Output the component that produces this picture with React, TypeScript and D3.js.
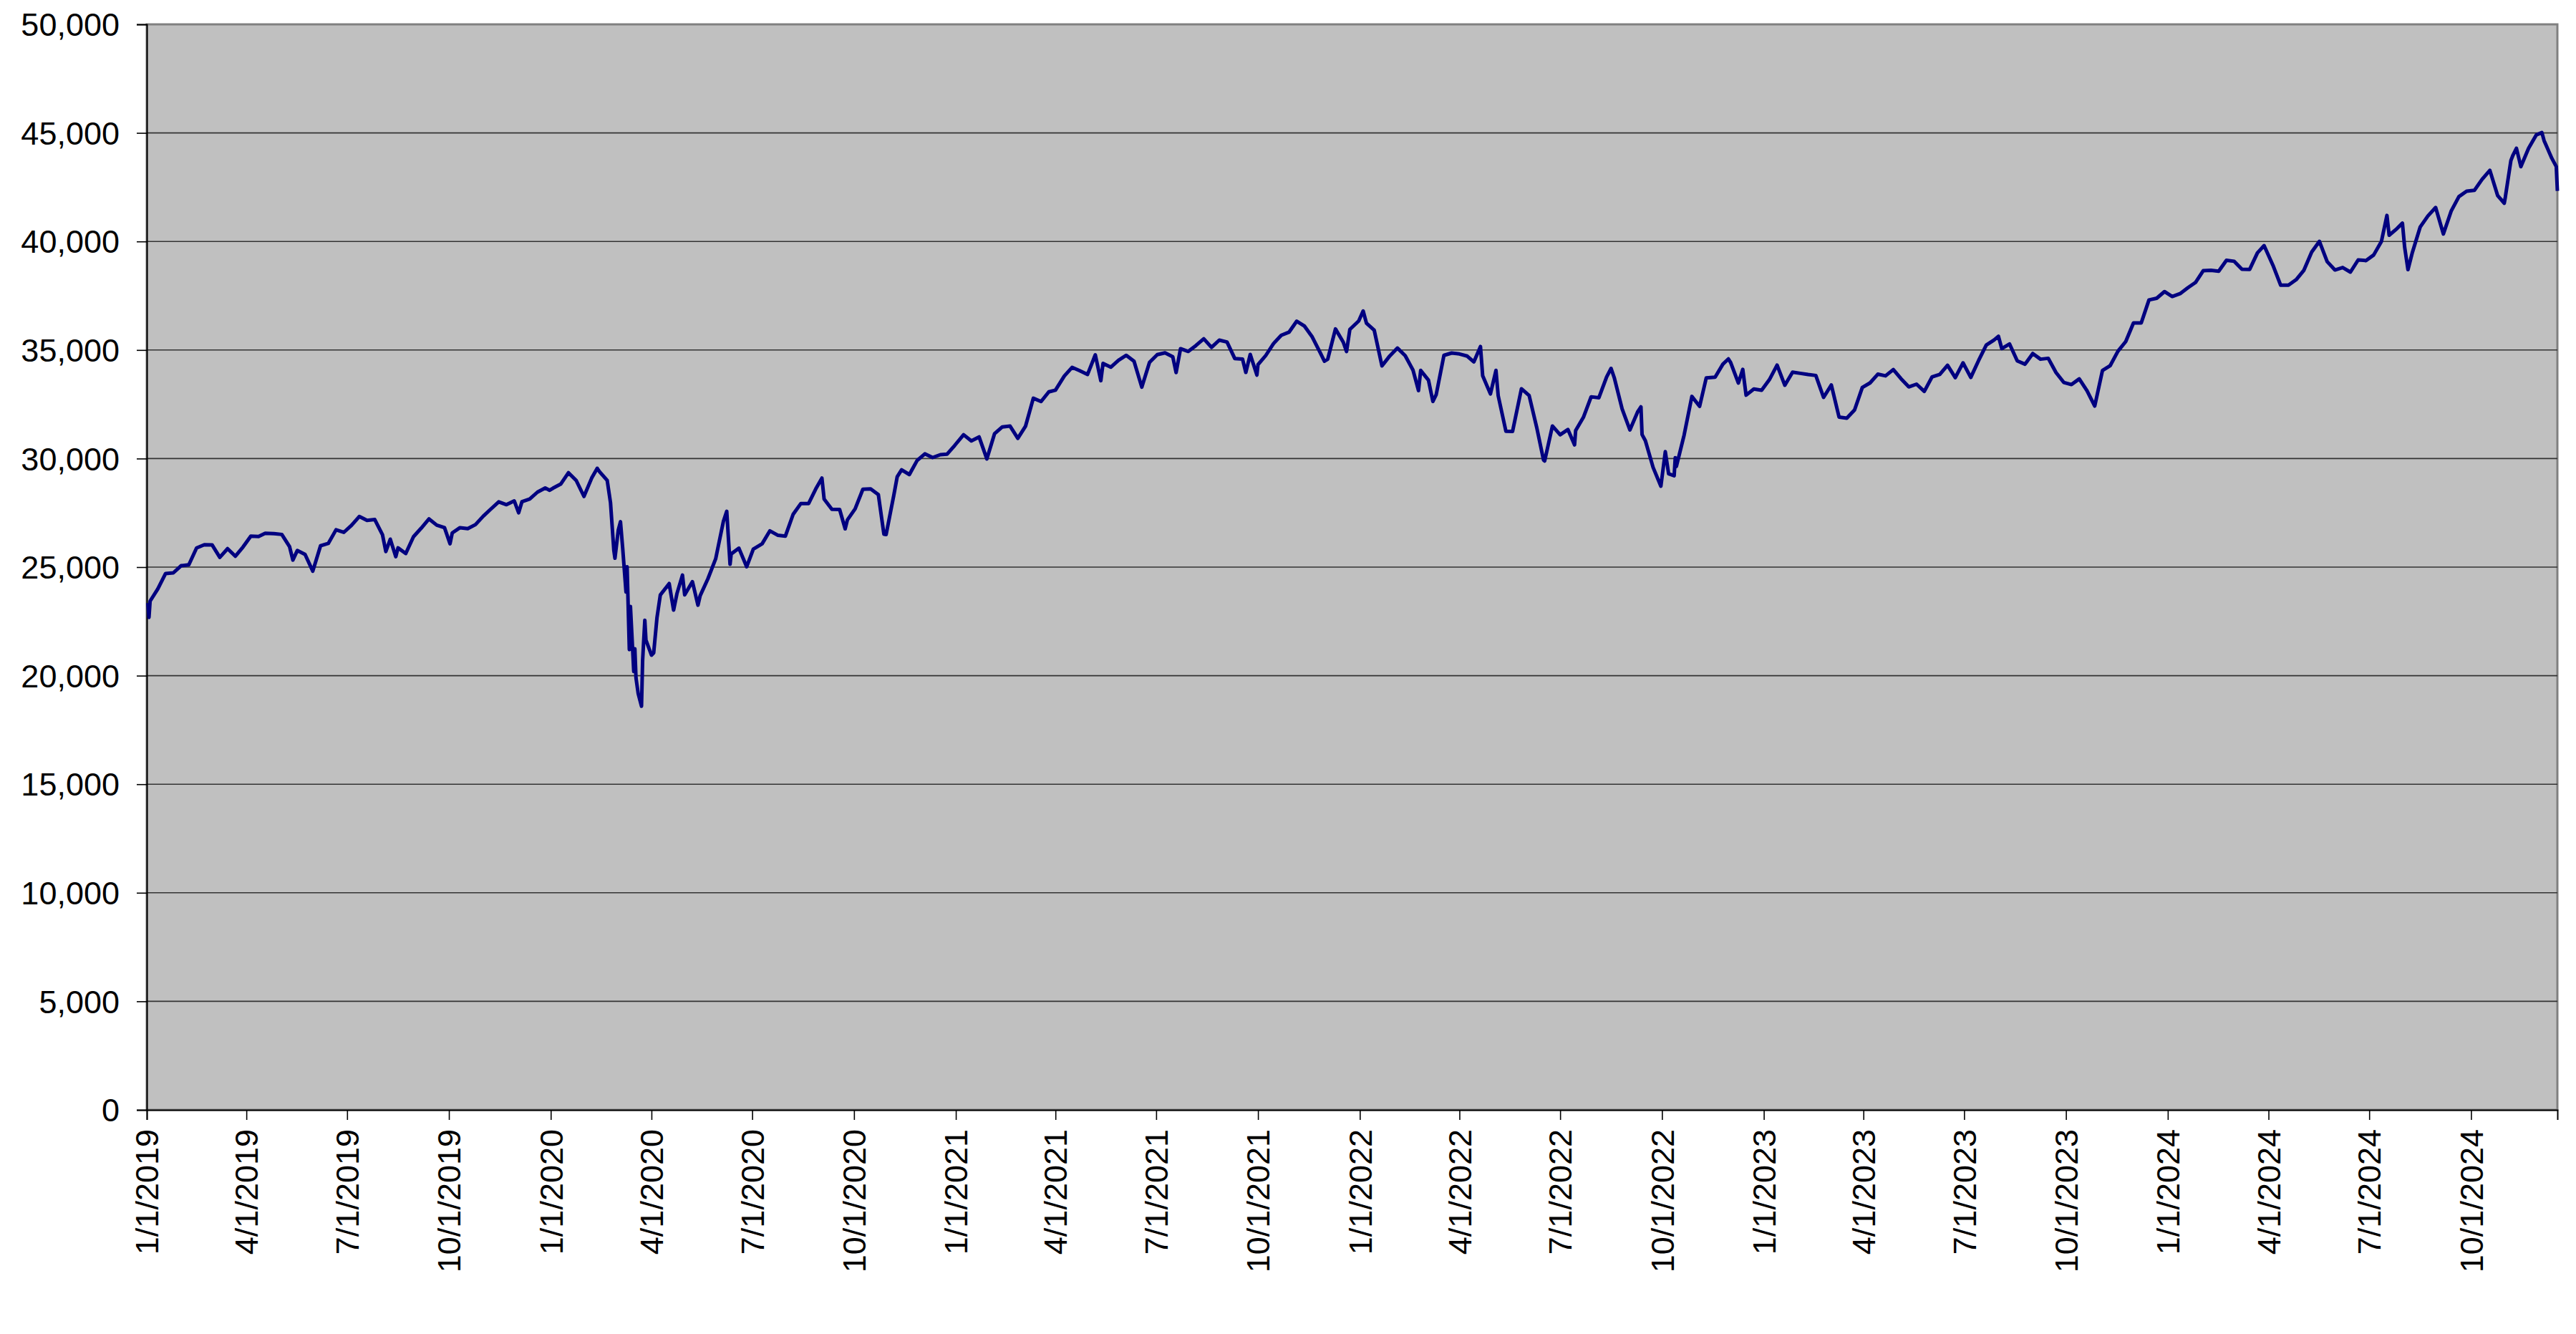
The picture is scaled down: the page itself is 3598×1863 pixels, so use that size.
import { useRef, useEffect } from "react";
import * as d3 from "d3";

// weekly-ish closes (extra points where the line swings hard)
const series2019: [string, number][] = [
  ["2019-01-02", 23346], ["2019-01-03", 22686], ["2019-01-04", 23433], ["2019-01-11", 23996],
  ["2019-01-18", 24706], ["2019-01-25", 24737], ["2019-02-01", 25064], ["2019-02-08", 25106],
  ["2019-02-15", 25883], ["2019-02-22", 26031], ["2019-03-01", 26026], ["2019-03-08", 25450],
  ["2019-03-15", 25849], ["2019-03-22", 25502], ["2019-03-29", 25929], ["2019-04-05", 26425],
  ["2019-04-12", 26412], ["2019-04-18", 26559], ["2019-04-26", 26543], ["2019-05-03", 26505],
  ["2019-05-10", 25942], ["2019-05-13", 25324], ["2019-05-17", 25764], ["2019-05-24", 25586],
  ["2019-05-31", 24815], ["2019-06-07", 25984], ["2019-06-14", 26090], ["2019-06-21", 26719],
  ["2019-06-28", 26600], ["2019-07-05", 26922], ["2019-07-12", 27332], ["2019-07-19", 27154],
  ["2019-07-26", 27192], ["2019-08-02", 26485], ["2019-08-05", 25718], ["2019-08-09", 26287],
  ["2019-08-14", 25479], ["2019-08-16", 25886], ["2019-08-23", 25629], ["2019-08-30", 26403],
  ["2019-09-06", 26797], ["2019-09-13", 27220], ["2019-09-20", 26935], ["2019-09-27", 26820],
  ["2019-10-02", 26078], ["2019-10-04", 26573], ["2019-10-11", 26817], ["2019-10-18", 26770],
  ["2019-10-25", 26958], ["2019-11-01", 27347], ["2019-11-08", 27681], ["2019-11-15", 28005],
  ["2019-11-22", 27876], ["2019-11-29", 28051], ["2019-12-03", 27502], ["2019-12-06", 28015],
  ["2019-12-13", 28135], ["2019-12-20", 28455], ["2019-12-27", 28645], ["2019-12-31", 28538],
];

const series2020: [string, number][] = [
  ["2020-01-03", 28635], ["2020-01-10", 28824], ["2020-01-17", 29348], ["2020-01-24", 28990],
  ["2020-01-31", 28256], ["2020-02-07", 29103], ["2020-02-12", 29551], ["2020-02-14", 29398],
  ["2020-02-21", 28992], ["2020-02-24", 27961], ["2020-02-27", 25767], ["2020-02-28", 25409],
  ["2020-03-02", 26703], ["2020-03-04", 27091], ["2020-03-06", 25865], ["2020-03-09", 23851],
  ["2020-03-10", 25018], ["2020-03-12", 21200], ["2020-03-13", 23186], ["2020-03-16", 20189],
  ["2020-03-17", 21237], ["2020-03-18", 19899], ["2020-03-20", 19174], ["2020-03-23", 18592],
  ["2020-03-24", 20705], ["2020-03-26", 22552], ["2020-03-27", 21637], ["2020-04-01", 20944],
  ["2020-04-03", 21053], ["2020-04-06", 22680], ["2020-04-09", 23719], ["2020-04-17", 24242],
  ["2020-04-21", 23019], ["2020-04-24", 23775], ["2020-04-29", 24634], ["2020-05-01", 23724],
  ["2020-05-08", 24331], ["2020-05-13", 23247], ["2020-05-15", 23685], ["2020-05-22", 24465],
  ["2020-05-29", 25383], ["2020-06-05", 27111], ["2020-06-08", 27572], ["2020-06-11", 25128],
  ["2020-06-12", 25606], ["2020-06-19", 25871], ["2020-06-26", 25016], ["2020-07-02", 25827],
  ["2020-07-10", 26075], ["2020-07-17", 26672], ["2020-07-24", 26470], ["2020-07-31", 26428],
  ["2020-08-07", 27433], ["2020-08-14", 27931], ["2020-08-21", 27930], ["2020-08-28", 28654],
  ["2020-09-02", 29100], ["2020-09-04", 28133], ["2020-09-11", 27666], ["2020-09-18", 27657],
  ["2020-09-23", 26763], ["2020-09-25", 27174], ["2020-10-02", 27683], ["2020-10-09", 28587],
  ["2020-10-16", 28606], ["2020-10-23", 28336], ["2020-10-28", 26520], ["2020-10-30", 26502],
  ["2020-11-06", 28323], ["2020-11-09", 29158], ["2020-11-13", 29480], ["2020-11-20", 29263],
  ["2020-11-27", 29910], ["2020-12-04", 30218], ["2020-12-11", 30046], ["2020-12-18", 30179],
  ["2020-12-24", 30200], ["2020-12-31", 30606],
];

const series2021: [string, number][] = [
  ["2021-01-08", 31098], ["2021-01-15", 30814], ["2021-01-22", 30997], ["2021-01-29", 29983],
  ["2021-02-05", 31148], ["2021-02-12", 31458], ["2021-02-19", 31494], ["2021-02-26", 30932],
  ["2021-03-05", 31496], ["2021-03-12", 32779], ["2021-03-19", 32628], ["2021-03-26", 33073],
  ["2021-04-01", 33153], ["2021-04-09", 33801], ["2021-04-16", 34200], ["2021-04-23", 34043],
  ["2021-04-30", 33875], ["2021-05-07", 34778], ["2021-05-12", 33587], ["2021-05-14", 34382],
  ["2021-05-21", 34208], ["2021-05-28", 34529], ["2021-06-04", 34756], ["2021-06-11", 34480],
  ["2021-06-18", 33290], ["2021-06-25", 34434], ["2021-07-02", 34786], ["2021-07-09", 34870],
  ["2021-07-16", 34688], ["2021-07-19", 33962], ["2021-07-23", 35062], ["2021-07-30", 34935],
  ["2021-08-06", 35209], ["2021-08-13", 35515], ["2021-08-20", 35120], ["2021-08-27", 35455],
  ["2021-09-03", 35369], ["2021-09-10", 34608], ["2021-09-17", 34584], ["2021-09-20", 33970],
  ["2021-09-24", 34798], ["2021-09-30", 33844], ["2021-10-01", 34326], ["2021-10-08", 34746],
  ["2021-10-15", 35295], ["2021-10-22", 35677], ["2021-10-29", 35820], ["2021-11-05", 36328],
  ["2021-11-12", 36100], ["2021-11-19", 35602], ["2021-11-26", 34899], ["2021-11-30", 34484],
  ["2021-12-03", 34580], ["2021-12-10", 35971], ["2021-12-17", 35365], ["2021-12-20", 34932],
  ["2021-12-23", 35950], ["2021-12-31", 36338],
];

const series2022: [string, number][] = [
  ["2022-01-04", 36799], ["2022-01-07", 36232], ["2022-01-14", 35912], ["2022-01-21", 34265],
  ["2022-01-28", 34725], ["2022-02-04", 35089], ["2022-02-11", 34738], ["2022-02-18", 34079],
  ["2022-02-23", 33131], ["2022-02-25", 34059], ["2022-03-04", 33614], ["2022-03-08", 32632],
  ["2022-03-11", 32944], ["2022-03-18", 34754], ["2022-03-25", 34862], ["2022-04-01", 34818],
  ["2022-04-08", 34721], ["2022-04-14", 34451], ["2022-04-20", 35160], ["2022-04-22", 33811],
  ["2022-04-29", 32977], ["2022-05-04", 34061], ["2022-05-06", 32899], ["2022-05-13", 31261],
  ["2022-05-19", 31253], ["2022-05-27", 33213], ["2022-06-03", 32900], ["2022-06-10", 31393],
  ["2022-06-16", 29927], ["2022-06-17", 29888], ["2022-06-24", 31500], ["2022-07-01", 31097],
  ["2022-07-08", 31338], ["2022-07-14", 30630], ["2022-07-15", 31289], ["2022-07-22", 31899],
  ["2022-07-29", 32845], ["2022-08-05", 32803], ["2022-08-12", 33761], ["2022-08-16", 34152],
  ["2022-08-19", 33706], ["2022-08-26", 32283], ["2022-09-02", 31318], ["2022-09-09", 32151],
  ["2022-09-12", 32381], ["2022-09-13", 31105], ["2022-09-16", 30822], ["2022-09-23", 29590],
  ["2022-09-30", 28726], ["2022-10-04", 30317], ["2022-10-07", 29297], ["2022-10-12", 29210],
  ["2022-10-13", 30038], ["2022-10-14", 29635], ["2022-10-21", 31082], ["2022-10-28", 32861],
  ["2022-11-04", 32403], ["2022-11-10", 33716], ["2022-11-18", 33746], ["2022-11-25", 34347],
  ["2022-11-30", 34590], ["2022-12-02", 34430], ["2022-12-09", 33477], ["2022-12-13", 34109],
  ["2022-12-16", 32920], ["2022-12-23", 33204], ["2022-12-30", 33147],
];

const series2023: [string, number][] = [
  ["2023-01-06", 33631], ["2023-01-13", 34303], ["2023-01-20", 33376], ["2023-01-27", 33978],
  ["2023-02-03", 33926], ["2023-02-10", 33870], ["2023-02-17", 33827], ["2023-02-24", 32817],
  ["2023-03-03", 33391], ["2023-03-10", 31910], ["2023-03-17", 31862], ["2023-03-24", 32238],
  ["2023-03-31", 33274], ["2023-04-07", 33485], ["2023-04-14", 33887], ["2023-04-21", 33809],
  ["2023-04-28", 34098], ["2023-05-05", 33675], ["2023-05-12", 33301], ["2023-05-19", 33427],
  ["2023-05-26", 33093], ["2023-06-02", 33763], ["2023-06-09", 33877], ["2023-06-16", 34299],
  ["2023-06-23", 33727], ["2023-06-30", 34408], ["2023-07-07", 33735], ["2023-07-14", 34509],
  ["2023-07-21", 35228], ["2023-07-28", 35459], ["2023-08-01", 35630], ["2023-08-04", 35066],
  ["2023-08-11", 35281], ["2023-08-18", 34500], ["2023-08-25", 34346], ["2023-09-01", 34838],
  ["2023-09-08", 34577], ["2023-09-15", 34618], ["2023-09-22", 33964], ["2023-09-29", 33508],
  ["2023-10-06", 33408], ["2023-10-13", 33670], ["2023-10-20", 33127], ["2023-10-27", 32418],
  ["2023-11-03", 34061], ["2023-11-10", 34283], ["2023-11-17", 34947], ["2023-11-24", 35390],
  ["2023-12-01", 36246], ["2023-12-08", 36248], ["2023-12-15", 37306], ["2023-12-22", 37385],
  ["2023-12-29", 37690],
];

const series2024: [string, number][] = [
  ["2024-01-05", 37466], ["2024-01-12", 37593], ["2024-01-19", 37863], ["2024-01-26", 38109],
  ["2024-02-02", 38654], ["2024-02-09", 38672], ["2024-02-16", 38628], ["2024-02-23", 39131],
  ["2024-03-01", 39087], ["2024-03-08", 38723], ["2024-03-15", 38715], ["2024-03-22", 39476],
  ["2024-03-28", 39807], ["2024-04-05", 38904], ["2024-04-12", 37983], ["2024-04-19", 37986],
  ["2024-04-26", 38240], ["2024-05-03", 38676], ["2024-05-10", 39513], ["2024-05-17", 40004],
  ["2024-05-24", 39070], ["2024-05-31", 38686], ["2024-06-07", 38799], ["2024-06-14", 38589],
  ["2024-06-21", 39150], ["2024-06-28", 39119], ["2024-07-05", 39376], ["2024-07-12", 40001],
  ["2024-07-17", 41198], ["2024-07-19", 40288], ["2024-07-26", 40589], ["2024-07-31", 40843],
  ["2024-08-02", 39737], ["2024-08-05", 38703], ["2024-08-09", 39498], ["2024-08-16", 40660],
  ["2024-08-23", 41175], ["2024-08-30", 41563], ["2024-09-06", 40345], ["2024-09-13", 41394],
  ["2024-09-20", 42063], ["2024-09-27", 42313], ["2024-10-04", 42353], ["2024-10-11", 42864],
  ["2024-10-18", 43276], ["2024-10-25", 42114], ["2024-10-31", 41763], ["2024-11-01", 42052],
  ["2024-11-06", 43729], ["2024-11-08", 43989], ["2024-11-11", 44293], ["2024-11-15", 43445],
  ["2024-11-22", 44296], ["2024-11-29", 44910], ["2024-12-04", 45014], ["2024-12-06", 44643],
  ["2024-12-13", 43828], ["2024-12-17", 43450], ["2024-12-18", 42326],
];

const xTickDates = [
  "2019-01-01", "2019-04-01", "2019-07-01", "2019-10-01",
  "2020-01-01", "2020-04-01", "2020-07-01", "2020-10-01",
  "2021-01-01", "2021-04-01", "2021-07-01", "2021-10-01",
  "2022-01-01", "2022-04-01", "2022-07-01", "2022-10-01",
  "2023-01-01", "2023-04-01", "2023-07-01", "2023-10-01",
  "2024-01-01", "2024-04-01", "2024-07-01", "2024-10-01",
];
const yTicks = [0, 5000, 10000, 15000, 20000, 25000, 30000, 35000, 40000, 45000, 50000];
const xStart = "2019-01-01";
const xEnd = "2024-12-18";

const WIDTH = 3598;
const HEIGHT = 1863;
const PLOT = { left: 205, right: 3572, top: 34, bottom: 1550 };
const FONT = "'Liberation Sans', Arial, sans-serif";

export default function App() {
  const svgRef = useRef<SVGSVGElement>(null);

  useEffect(() => {
    const svg = d3.select(svgRef.current);
    svg.selectAll("*").remove();

    const parse = d3.timeParse("%Y-%m-%d");
    const data = [...series2019, ...series2020, ...series2021, ...series2022, ...series2023, ...series2024]
      .map(([d, v]) => ({ date: parse(d) as Date, value: v }));

    const x = d3.scaleTime()
      .domain([parse(xStart) as Date, parse(xEnd) as Date])
      .range([PLOT.left, PLOT.right]);
    const y = d3.scaleLinear().domain([0, 50000]).range([PLOT.bottom, PLOT.top]);

    // plot area
    svg.append("rect")
      .attr("x", PLOT.left)
      .attr("y", PLOT.top)
      .attr("width", PLOT.right - PLOT.left)
      .attr("height", PLOT.bottom - PLOT.top)
      .attr("fill", "#c0c0c0")
      .attr("stroke", "#808080")
      .attr("stroke-width", 3);

    // gridlines
    svg.append("g")
      .selectAll("line")
      .data(yTicks.filter((t) => t > 0 && t < 50000))
      .join("line")
      .attr("x1", PLOT.left)
      .attr("x2", PLOT.right)
      .attr("y1", (d) => y(d))
      .attr("y2", (d) => y(d))
      .attr("stroke", "#333")
      .attr("stroke-width", 1.6);

    // y axis
    const yAxis = d3.axisLeft(y)
      .tickValues(yTicks)
      .tickSize(14)
      .tickPadding(24)
      .tickFormat((d) => d3.format(",")(d as number));
    svg.append("g")
      .attr("transform", `translate(${PLOT.left},0)`)
      .call(yAxis)
      .call((a) => a.select(".domain").attr("stroke", "#000").attr("stroke-width", 2))
      .call((a) => a.selectAll("line").attr("stroke", "#000").attr("stroke-width", 1.6))
      .call((a) => a.selectAll("text")
        .attr("fill", "#000")
        .attr("font-family", FONT)
        .attr("font-size", 45)
        .attr("dy", "0.35em"));

    // x axis, labels rotated to read upward
    const fmt = (d: Date) => `${d.getMonth() + 1}/${d.getDate()}/${d.getFullYear()}`;
    const xAxis = d3.axisBottom(x)
      .tickValues(xTickDates.map((d) => parse(d) as Date))
      .tickSize(14)
      .tickFormat((d) => fmt(d as Date));
    svg.append("g")
      .attr("transform", `translate(0,${PLOT.bottom})`)
      .call(xAxis)
      .call((a) => a.select(".domain").attr("stroke", "#000").attr("stroke-width", 2))
      .call((a) => a.selectAll("line").attr("stroke", "#000").attr("stroke-width", 1.6))
      .call((a) => a.selectAll("text")
        .attr("fill", "#000")
        .attr("font-family", FONT)
        .attr("font-size", 45)
        .attr("text-anchor", "end")
        .attr("transform", "rotate(-90)")
        .attr("x", -27)
        .attr("y", 0)
        .attr("dy", "0.35em"));

    // series line
    const line = d3.line<{ date: Date; value: number }>()
      .x((d) => x(d.date))
      .y((d) => y(d.value));
    svg.append("path")
      .datum(data)
      .attr("d", line)
      .attr("fill", "none")
      .attr("stroke", "#000080")
      .attr("stroke-width", 5)
      .attr("stroke-linejoin", "round");
  }, []);

  return (
    <svg
      ref={svgRef}
      width={WIDTH}
      height={HEIGHT}
      viewBox={`0 0 ${WIDTH} ${HEIGHT}`}
      style={{ position: "absolute", left: 0, top: 0, background: "#fff" }}
    />
  );
}
